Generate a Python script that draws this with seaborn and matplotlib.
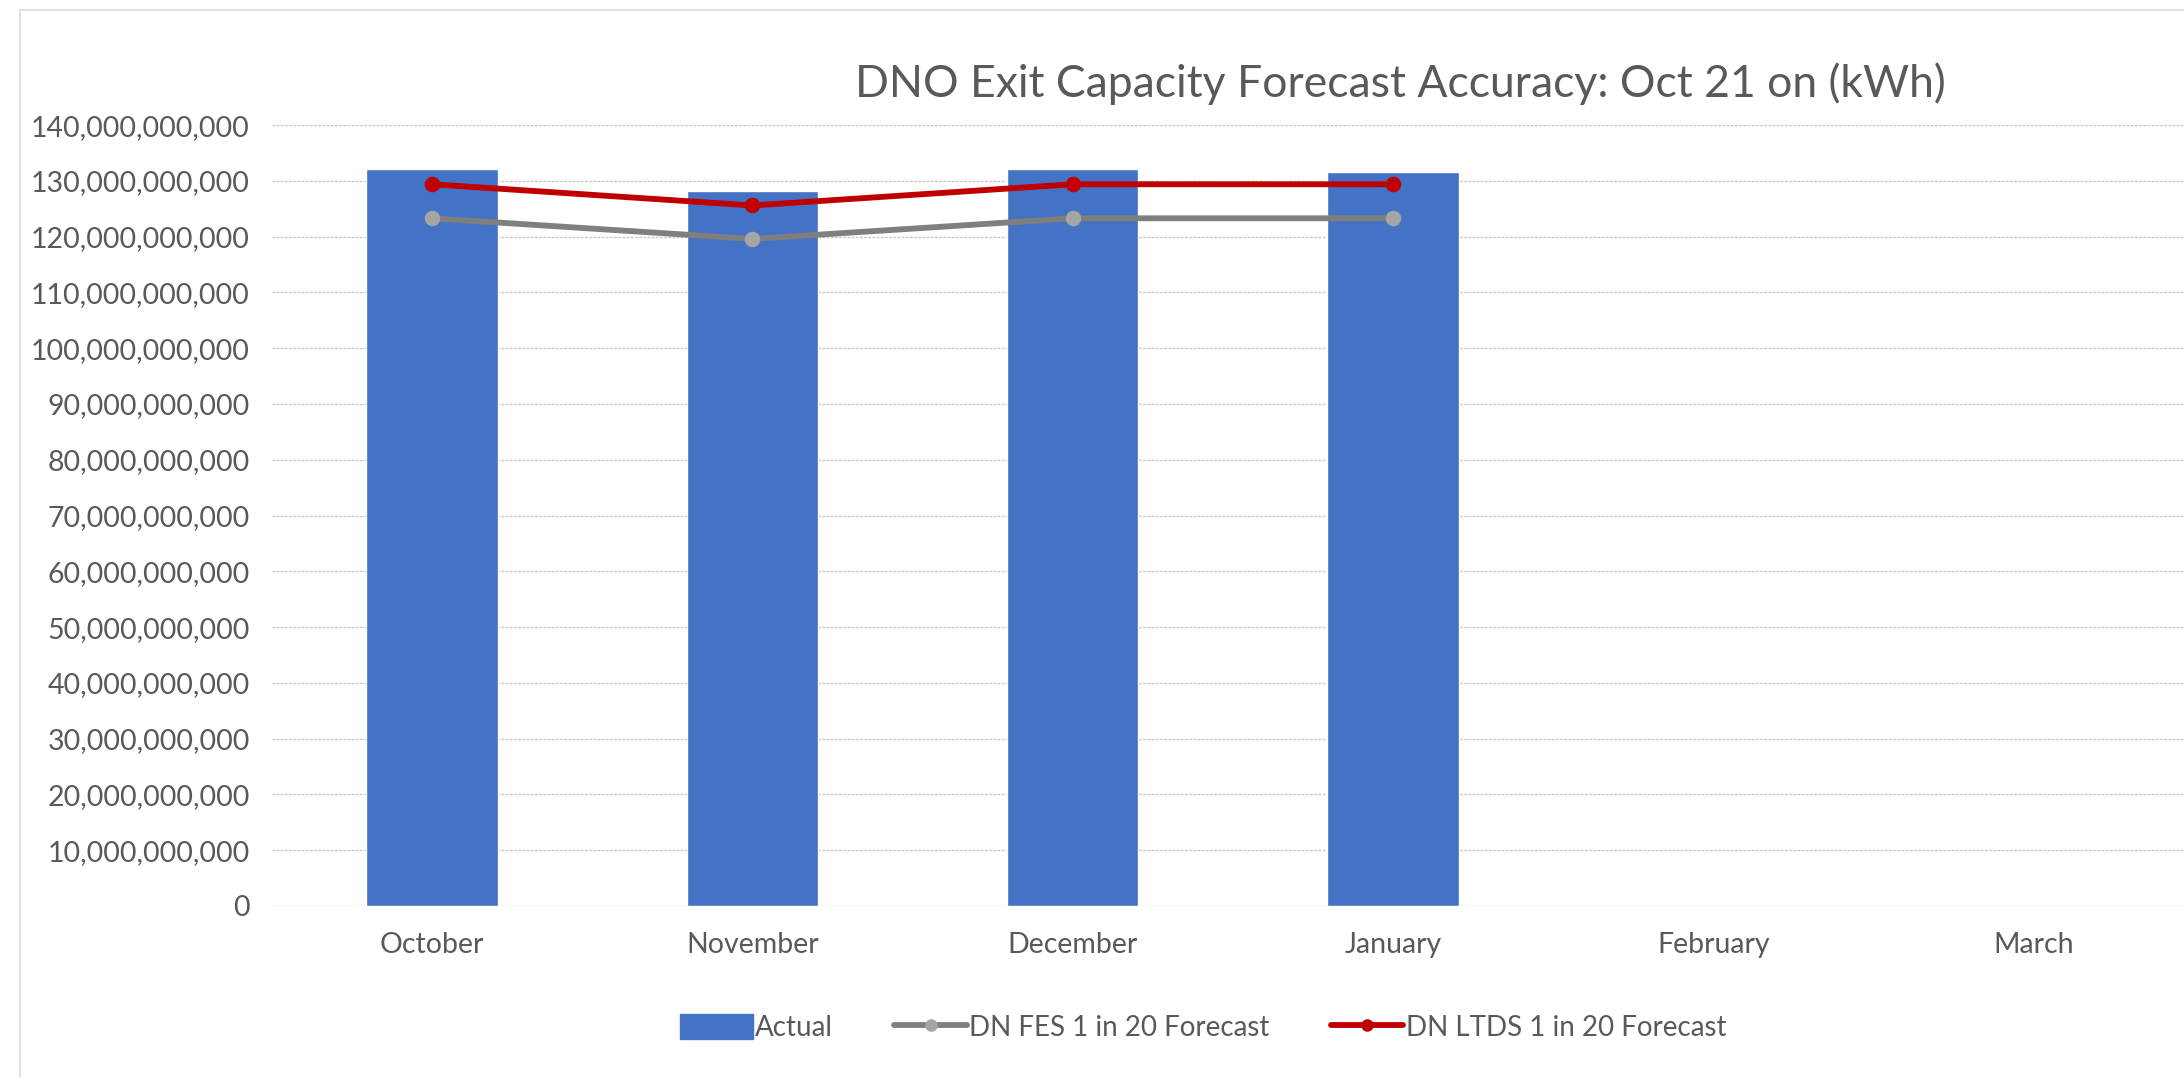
import numpy as np
import pandas as pd
import seaborn as sns
import matplotlib.pyplot as plt
from matplotlib.lines import Line2D
from matplotlib.patches import Patch, Rectangle
from matplotlib.ticker import FuncFormatter, MultipleLocator

months = ["October", "November", "December", "January", "February", "March"]
actual = [132.1e9, 128.2e9, 132.1e9, 131.6e9, np.nan, np.nan]
fes_forecast = [123.3e9, 119.6e9, 123.3e9, 123.3e9, np.nan, np.nan]
ltds_forecast = [129.4e9, 125.6e9, 129.4e9, 129.4e9, np.nan, np.nan]

series_names = ["Actual", "DN FES 1 in 20 Forecast", "DN LTDS 1 in 20 Forecast"]
bar_color = "#4472C4"
fes_line, fes_marker = "#7F7F7F", "#A5A5A5"
ltds_color = "#C00000"
text_grey = "#595959"


def main():
    df = pd.DataFrame({"month": months, "actual": actual,
                       "fes": fes_forecast, "ltds": ltds_forecast})

    sns.set_theme(style="white")
    plt.rcParams["font.family"] = ["Lato", "DejaVu Sans"]

    fig = plt.figure(figsize=(21.84, 10.77), dpi=100)
    ax = fig.add_axes([0.1245, 0.1588, 0.880, 0.725])

    # outer chart border (Excel chart frame)
    fig.patches.append(Rectangle((20 / 2184, -0.05), 1.2, 1.05 - 10 / 1077,
                                 transform=fig.transFigure, fill=False,
                                 edgecolor="#d9d9d9", linewidth=1.2))

    sns.barplot(data=df, x="month", y="actual", order=months, color=bar_color,
                width=0.41, saturation=1, ax=ax, zorder=2)
    sns.pointplot(data=df, x="month", y="fes", order=months, color=fes_line,
                  errorbar=None, ax=ax, linewidth=4.2, markersize=8,
                  markerfacecolor=fes_marker, markeredgecolor=fes_marker, zorder=3)
    sns.pointplot(data=df, x="month", y="ltds", order=months, color=ltds_color,
                  errorbar=None, ax=ax, linewidth=4.2, markersize=8, zorder=4)

    ax.set_xlim(-0.5, 5.5)
    ax.set_ylim(0, 140e9)
    ax.yaxis.set_major_locator(MultipleLocator(10e9))
    ax.yaxis.set_major_formatter(FuncFormatter(lambda v, p: f"{v:,.0f}"))
    ax.grid(axis="y", color="#c8c8c8", linestyle=(0, (2, 1)), linewidth=1.0, zorder=0)
    ax.set_axisbelow(True)
    for s in ax.spines.values():
        s.set_visible(False)
    ax.set_xlabel("")
    ax.set_ylabel("")
    ax.tick_params(axis="x", length=0, pad=19, labelsize=20.5, labelcolor=text_grey)
    ax.tick_params(axis="y", length=0, pad=16, labelsize=20.5, labelcolor=text_grey)

    fig.text(0.641, 0.922, "DNO Exit Capacity Forecast Accuracy: Oct 21 on (kWh)",
             ha="center", va="center", fontsize=32, color=text_grey)

    handles = [
        Patch(facecolor=bar_color, edgecolor=bar_color),
        Line2D([], [], color=fes_line, linewidth=4.2, marker="o", markersize=8,
               markerfacecolor=fes_marker, markeredgecolor=fes_marker),
        Line2D([], [], color=ltds_color, linewidth=4.2, marker="o", markersize=8),
    ]
    fig.legend(handles, series_names, loc="center", bbox_to_anchor=(0.551, 0.046),
               ncol=3, frameon=False, fontsize=20, labelcolor=text_grey,
               handlelength=2.6, handleheight=1.0, columnspacing=2.2, handletextpad=0.1)

    fig.savefig("out.png", dpi=100)
    plt.close(fig)


if __name__ == "__main__":
    main()
